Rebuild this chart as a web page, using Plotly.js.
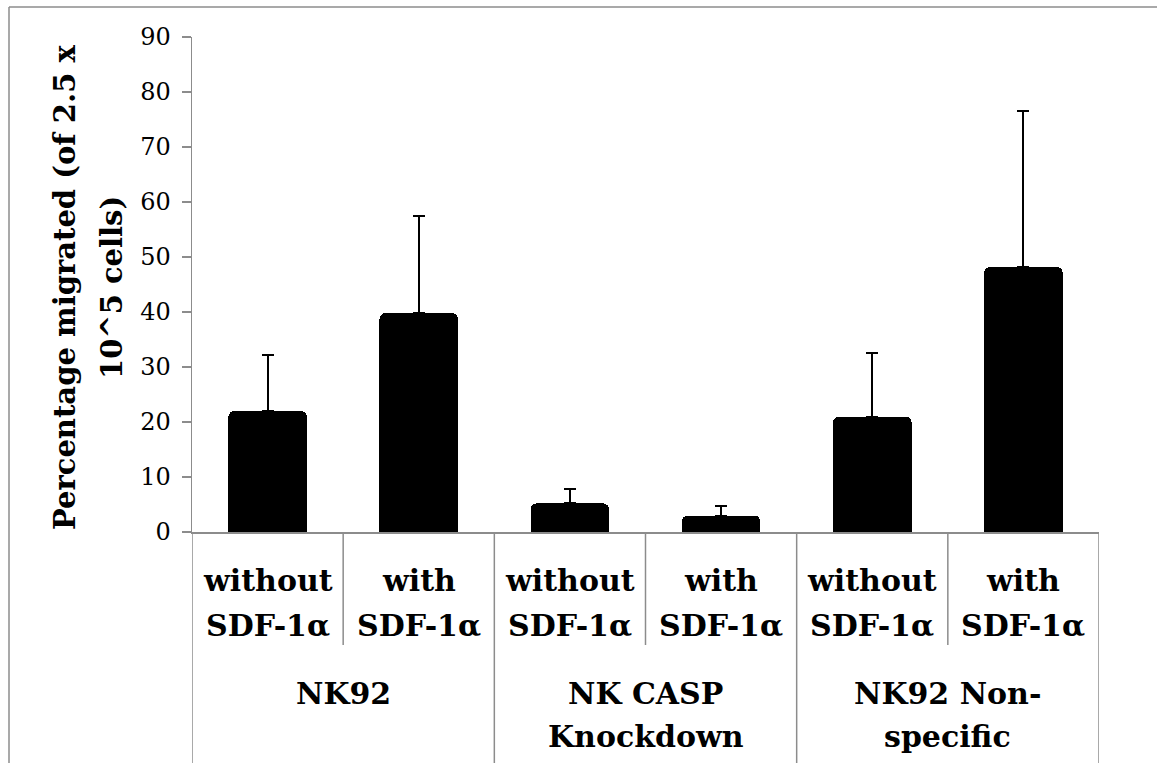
<!DOCTYPE html>
<html>
<head>
<meta charset="utf-8">
<script src="https://cdn.plot.ly/plotly-3.0.1.min.js"></script>
<style>html,body{margin:0;padding:0;background:#fff;}#chart{width:1157px;height:763px;}</style>
</head>
<body>
<div id="chart"></div>
<script>
// ---- data ----
const groups = ["NK92", "NK CASP<br>Knockdown", "NK92 Non-<br>specific"];
const conditions = ["without<br>SDF-1α", "with<br>SDF-1α"];
const values = [22.0, 39.8, 5.2, 3.0, 21.0, 48.2];
const errors = [10.1, 17.7, 2.6, 1.7, 11.5, 28.4];
const yTitle = "Percentage migrated (of 2.5 x<br>10^5 cells)";
const yTicks = [0, 10, 20, 30, 40, 50, 60, 70, 80, 90];

// ---- layout geometry ----
const W = 1157, H = 763;
const L = 192, R = 1099, T = 37, B = 532;
const px = x => (x - L) / (R - L);
const py = y => (B - y) / (B - T);
const gray = "#8c8c8c";
const labelFont = {family: "DejaVu Serif", size: 30, color: "#000"};

const cats = [];
const catCond = [];
groups.forEach((g, gi) => conditions.forEach((c, ci) => {
  cats.push(g.replace("<br>", " ") + " | " + c.replace("<br>", " "));
  catCond.push(c);
}));

const shapes = [];
const annotations = [];
// subcategory dividers (within groups)
groups.forEach((g, gi) => {
  for (let ci = 1; ci < conditions.length; ci++) {
    const xpos = gi * conditions.length + ci - 0.5;
    shapes.push({type: "line", xref: "x", yref: "paper", x0: xpos, x1: xpos, y0: py(532), y1: py(645), line: {color: gray, width: 1.5}});
  }
});
// group dividers
for (let gi = 0; gi <= groups.length; gi++) {
  const xpos = gi * conditions.length - 0.5;
  shapes.push({type: "line", xref: "x", yref: "paper", x0: xpos, x1: xpos, y0: py(532), y1: py(763), line: {color: gray, width: 1.5}});
}
// outer frame (top and left)
shapes.push({type: "line", xref: "paper", yref: "paper", x0: px(9), x1: px(1160), y0: py(7), y1: py(7), line: {color: gray, width: 1.5}});
shapes.push({type: "line", xref: "paper", yref: "paper", x0: px(9), x1: px(9), y0: py(7), y1: py(766), line: {color: gray, width: 1.5}});

// condition labels (one annotation per line)
const condLineY = [580, 625];
cats.forEach((cat, i) => {
  catCond[i].split("<br>").forEach((ln, li) => {
    annotations.push({xref: "x", yref: "paper", x: cat, y: py(condLineY[li]), text: "<b>" + ln + "</b>", showarrow: false, xanchor: "center", yanchor: "middle", font: labelFont});
  });
});
// group labels
const groupLineY = [693, 736];
groups.forEach((g, gi) => {
  const xc = gi * conditions.length + (conditions.length - 1) / 2;
  g.split("<br>").forEach((ln, li) => {
    annotations.push({xref: "x", yref: "paper", x: xc, y: py(groupLineY[li]), text: "<b>" + ln + "</b>", showarrow: false, xanchor: "center", yanchor: "middle", font: labelFont});
  });
});
// y-axis title
const titleLineX = [65, 112];
yTitle.split("<br>").forEach((ln, li) => {
  annotations.push({xref: "paper", yref: "paper", x: px(titleLineX[li]), y: py(288), text: "<b>" + ln + "</b>", showarrow: false, textangle: -90, xanchor: "center", yanchor: "middle", font: {family: "DejaVu Serif", size: 29, color: "#000"}});
});

const trace = {
  type: "bar",
  x: cats,
  y: values,
  width: 0.52,
  marker: {color: "#000", cornerradius: 6, line: {width: 0}},
  error_y: {type: "data", array: errors, arrayminus: values.map(() => 0), symmetric: false, color: "#000", thickness: 2, width: 6},
  hoverinfo: "none"
};

const layout = {
  width: W, height: H,
  margin: {l: L, r: W - R, t: T, b: H - B, pad: 0},
  paper_bgcolor: "#fff", plot_bgcolor: "#fff",
  showlegend: false,
  bargap: 0,
  xaxis: {type: "category", range: [-0.5, cats.length - 0.5], showticklabels: false, ticks: "", showline: true, linecolor: gray, linewidth: 1.5, showgrid: false, zeroline: false, fixedrange: true},
  yaxis: {range: [0, 90], tickvals: yTicks, ticks: "outside", ticklen: 9, tickwidth: 1.5, tickcolor: gray, showline: true, linecolor: gray, linewidth: 1.5, showgrid: false, zeroline: false, ticklabelstandoff: 6,
    tickfont: {family: "DejaVu Serif", size: 24, color: "#000"}, fixedrange: true},
  shapes: shapes,
  annotations: annotations
};

Plotly.newPlot("chart", [trace], layout, {displayModeBar: false, staticPlot: true});
</script>
</body>
</html>
